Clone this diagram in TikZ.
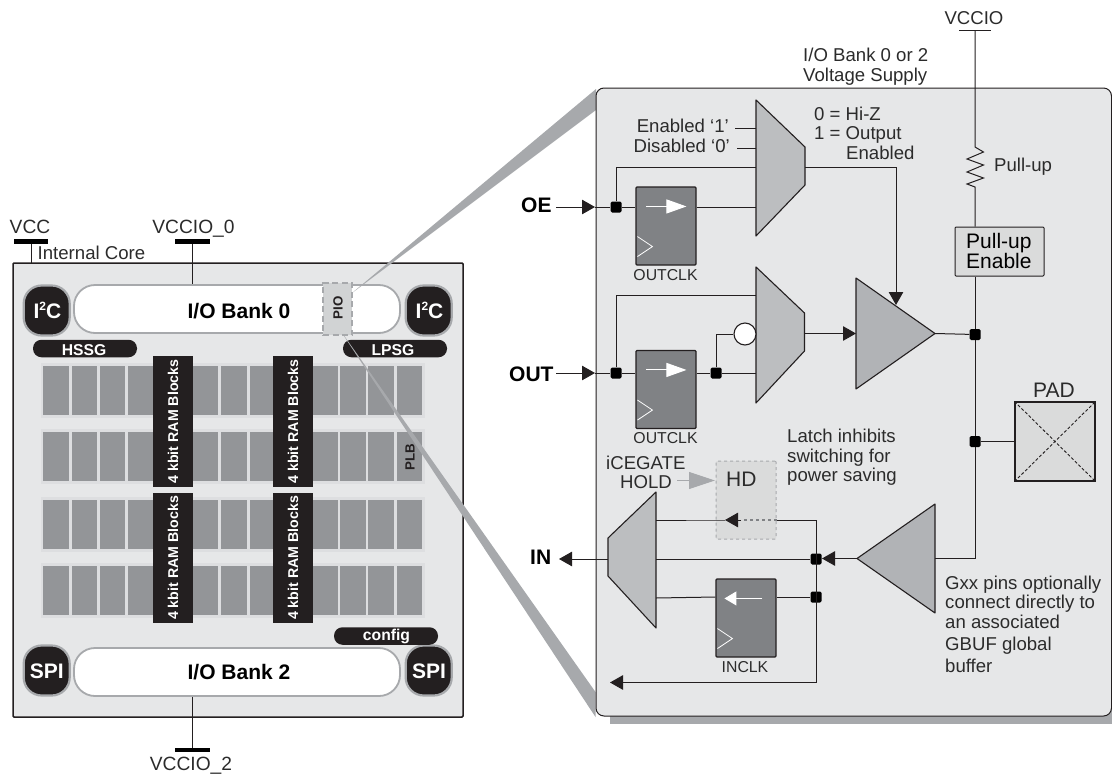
\documentclass[tikz,border=0pt]{standalone}
\usepackage{fontspec}
\setmainfont{Liberation Sans}
\usetikzlibrary{arrows.meta,calc}
\definecolor{txt}{HTML}{2B2B2B}
\definecolor{panelbg}{HTML}{E6E7E8}
\definecolor{greyc}{HTML}{A7A9AC}
\definecolor{cellc}{HTML}{939598}
\definecolor{cellbg}{HTML}{DDDEE0}
\definecolor{blk}{HTML}{231F20}
\definecolor{muxc}{HTML}{BCBEC0}
\definecolor{triC}{HTML}{B1B3B6}
\definecolor{ffc}{HTML}{808285}
\definecolor{hdc}{HTML}{DADBDB}
\definecolor{pioc}{HTML}{D1D3D4}
\newcommand{\twosup}{\raisebox{.36em}{\fontsize{12}{12}\selectfont 2}}
\tikzset{
  lbl/.style={inner sep=0pt,text=txt,font=\fontsize{18.6}{20}\selectfont},
  lblb/.style={inner sep=0pt,text=black,font=\fontsize{21}{22}\selectfont\bfseries},
  wire/.style={draw=blk,line width=1pt},
  tip/.style={-{Triangle[length=13pt,width=14.5pt]}},
  jn/.style={fill=black,rounded corners=1.5pt,minimum size=11pt,inner sep=0pt,draw=none},
  rampill/.style={fill=blk,draw=none,inner sep=0pt},
  pill/.style={fill=blk,rounded corners=8.5pt,draw=none},
  bank/.style={fill=white,draw=greyc,line width=1.8pt,rounded corners=21pt},
  corner/.style={fill=blk,draw=greyc,line width=2.2pt,rounded corners=18pt},
  muxs/.style={fill=muxc,draw=blk,line width=1.1pt,line join=round},
  tris/.style={fill=triC,draw=blk,line width=1.1pt,line join=round},
  ffs/.style={fill=ffc,draw=blk,line width=1.1pt,rounded corners=1pt},
  white lbl/.style={inner sep=0pt,text=white,font=\fontsize{15.7}{16}\selectfont\bfseries},
  ramt/.style={inner sep=0pt,text=white,rotate=90,font=\fontsize{14.2}{15}\selectfont\bfseries},
  clkl/.style={inner sep=0pt,text=txt,font=\fontsize{15.8}{16}\selectfont},
}
\begin{document}
\begin{tikzpicture}[x=1pt,y=-1pt]
\useasboundingbox (0,0) rectangle (1112,774);
% ---------- chip
\node[draw=blk,line width=1.5pt,fill=panelbg,minimum width=450pt,minimum height=454pt,inner sep=0pt,rounded corners=1pt] (chip) at (238,490) {};
% PLB rows
\foreach \yy in {363,429,497,563}{
  \fill[cellbg] (41,\yy) rectangle (425,\yy+54.5);
  \foreach \xx in {43.3,71.7,99.7,127.7,193,221.3,249.7,312.3,340.3,368.3,396.7}{
    \fill[cellc] (\xx,\yy+2.5) rectangle (\xx+25.4,\yy+52);
  }
}
% RAM blocks
\foreach \xx/\nm in {153/r1,273/r2}{
  \node[rampill,minimum width=39.7pt,minimum height=131pt] (\nm t) at (\xx+19.85,421.5) {};
  \node[rampill,minimum width=39.7pt,minimum height=130pt] (\nm b) at (\xx+19.85,558) {};
  \node[ramt] at (\xx+20,421.5) {4 kbit RAM Blocks};
  \node[ramt] at (\xx+20,558) {4 kbit RAM Blocks};
}
\node[inner sep=0pt,rotate=90,text=blk,font=\fontsize{13.3}{14}\selectfont\bfseries] (plb) at (410,457) {PLB};
% banks
\node[bank,minimum width=326pt,minimum height=48pt,inner sep=0pt] (bank0) at (237,309) {};
\node[anchor=base,lblb] (bank0t) at (239,318) {I/O Bank 0};
\node[bank,minimum width=326pt,minimum height=48pt,inner sep=0pt] (bank2) at (237,672) {};
\node[anchor=base,lblb] (bank2t) at (239,679) {I/O Bank 2};
% corners
\node[corner,minimum width=46pt,minimum height=50pt,inner sep=0pt] (i2cl) at (46.7,310.5) {};
\node[corner,minimum width=46pt,minimum height=50pt,inner sep=0pt] (i2cr) at (428.7,310.5) {};
\node[corner,minimum width=46pt,minimum height=50pt,inner sep=0pt] (spil) at (46.7,670.5) {};
\node[corner,minimum width=46pt,minimum height=50pt,inner sep=0pt] (spir) at (428.7,670.5) {};
\node[anchor=base,lblb,text=white] at (47.5,318) {I\twosup C};
\node[anchor=base,lblb,text=white] at (429.5,318) {I\twosup C};
\node[anchor=base,lblb,text=white] at (46.7,678) {SPI};
\node[anchor=base,lblb,text=white] at (429,678) {SPI};
% pills
\node[pill,minimum width=104pt,minimum height=17.5pt,inner sep=0pt] (hssg) at (85,348.5) {};
\node[anchor=base,white lbl] at (84,355) {HSSG};
\node[pill,minimum width=104pt,minimum height=17.5pt,inner sep=0pt] (lpsg) at (395,348.5) {};
\node[anchor=base,white lbl] at (393,355) {LPSG};
\node[pill,minimum width=104pt,minimum height=17.5pt,inner sep=0pt] (config) at (386,636) {};
\node[anchor=base,white lbl] at (386.5,640) {config};
% supplies
\coordinate (vcctop) at (31,241);
\coordinate (vccb) at (31,263);
\coordinate (v0top) at (192,241);
\coordinate (v2bot) at (192,749.5);
\draw[wire] (vcctop) -- (vccb);
\draw[wire] (v0top) -- (v0top |- bank0.north);
\draw[wire] (v2bot) -- (v2bot |- bank2.south);
\fill[black] (14,239) rectangle (48,243.5);
\fill[black] (175,239) rectangle (209.5,243.5);
\fill[black] (175,747.5) rectangle (209.5,752);
\node[anchor=base,lbl,font=\fontsize{19.2}{20}\selectfont] (vcct) at (30,233) {VCC};
\node[anchor=base,lbl,font=\fontsize{19.2}{20}\selectfont] (v0t) at (193.5,233) {VCCIO\_0};
\node[anchor=base,lbl,font=\fontsize{19.2}{20}\selectfont] (v2t) at (191,770.5) {VCCIO\_2};
\node[anchor=base west,lbl] (ict) at (37.5,259) {Internal Core};
% zoom wedges
\fill[greyc] (352,293) -- (596,89) -- (596,110) -- cycle;
\fill[greyc] (338,327) -- (595.5,692) -- (595.5,717) -- cycle;
% PIO
\node[fill=pioc,draw=greyc,line width=2pt,dash pattern=on 6pt off 3.5pt,minimum width=29pt,minimum height=52pt,inner sep=0pt] (pio) at (337.5,309) {};
\node[inner sep=0pt,rotate=90,text=blk,font=\fontsize{13.3}{14}\selectfont\bfseries] at (338,308) {PIO};
% ---------- panel
\fill[greyc] (610,700) -- (1112,700) -- (1112,723.5) -- (610,723.5) -- cycle;
\draw[blk,fill=panelbg,line width=1pt,rounded corners=8pt] (596,88) rectangle (1111.5,716);
% supply texts
\node[anchor=base west,lbl] at (803,61) {I/O Bank 0 or 2};
\node[anchor=base west,lbl] at (803,81) {Voltage Supply};
\node[anchor=base,lbl] (vcciot) at (974,24) {VCCIO};
% mux 1
\draw[muxs] (756,100) -- (805,147) -- (805,185) -- (756,236) -- cycle;
\coordinate (m1a) at (756,128); \coordinate (m1b) at (756,148); \coordinate (m1c) at (756,167); \coordinate (m1d) at (756,207); \coordinate (m1o) at (805,167);
% mux 2
\draw[muxs] (756,267) -- (804.5,313) -- (804.5,351) -- (756,403) -- cycle;
\coordinate (m2a) at (756,295); \coordinate (m2d) at (756,373); \coordinate (m2o) at (804.5,333.5);
% mux 3
\draw[muxs] (656,492) -- (608,538) -- (608,576) -- (656,628) -- cycle;
\coordinate (m3a) at (656,520); \coordinate (m3b) at (656,559); \coordinate (m3c) at (656,598); \coordinate (m3o) at (608,559);
% triangles
\draw[tris] (856,278) -- (935,333.5) -- (856,389) -- cycle;
\coordinate (t1a) at (856,333.5); \coordinate (t1o) at (935,333.5); \coordinate (t1e) at (896,305);
\draw[tris] (935,504) -- (857,558.5) -- (935,613) -- cycle;
\coordinate (t2a) at (857,558.5); \coordinate (t2i) at (935,558.5);
% flip-flops
\node[ffs,minimum width=60pt,minimum height=78pt,inner sep=0pt] (ff1) at (666,226) {};
\node[ffs,minimum width=60pt,minimum height=78pt,inner sep=0pt] (ff2) at (666,389.5) {};
\node[ffs,minimum width=60pt,minimum height=78pt,inner sep=0pt] (ff3) at (746,618) {};
\foreach \n in {ff1,ff2}{
  \draw[white,line width=1pt,-{Triangle[length=20pt,width=14pt]}] ($(\n.north west)+(11,20)$) -- ($(\n.north west)+(51,20)$);
  \draw[white,line width=.8pt] ($(\n.south west)+(2,-29)$) -- ($(\n.south west)+(17,-19)$) -- ($(\n.south west)+(2,-9)$);
}
\draw[white,line width=1pt,-{Triangle[length=12pt,width=14pt]}] ($(ff3.north west)+(47,20)$) -- ($(ff3.north west)+(9,20)$);
\draw[white,line width=.8pt] ($(ff3.south west)+(2,-29)$) -- ($(ff3.south west)+(17,-19)$) -- ($(ff3.south west)+(2,-9)$);
\node[anchor=base,clkl] at (665.5,280) {OUTCLK};
\node[anchor=base,clkl] at (665.5,443) {OUTCLK};
\node[anchor=base,clkl] at (745,672) {INCLK};
% junctions
\node[jn] (j1) at (616,207) {};
\node[jn] (j2) at (616,373) {};
\node[jn] (j3) at (716,373) {};
\node[jn] (j4) at (975,334.5) {};
\node[jn] (j5) at (975,441.5) {};
\node[jn] (j6) at (816,559) {};
\node[jn] (j7) at (816,597) {};
% OE path
\node[anchor=base west,lblb] (oet) at (521,212) {OE};
\coordinate (oes) at (556,207); \coordinate (oee) at (595,207);
\draw[wire,tip] (oes) -- (oee);
\draw[wire] (oee) -- (j1) -- (ff1.west |- j1);
\draw[wire] (ff1.east |- j1) -- (m1d);
\draw[wire] (j1) -- (j1 |- m1c) -- (m1c);
\coordinate (en1) at (735,128); \coordinate (en2) at (737,148);
\draw[wire] (en1) -- (m1a);
\draw[wire] (en2) -- (m1b);
\node[anchor=base east,lbl] at (729,132) {Enabled ‘1’};
\node[anchor=base east,lbl] at (730,152) {Disabled ‘0’};
% OUT path
\node[anchor=base west,lblb] (outt) at (509,381) {OUT};
\coordinate (outs) at (556,373); \coordinate (oute) at (595,373);
\draw[wire,tip] (outs) -- (oute);
\draw[wire] (oute) -- (j2) -- (ff2.west |- j2);
\draw[wire] (ff2.east |- j2) -- (j3) -- (m2d);
\draw[wire] (j2) -- (j2 |- m2a) -- (m2a);
\node[draw=blk,fill=white,line width=1.1pt,circle,minimum size=22pt,inner sep=0pt] (inv) at (745,334) {};
\draw[wire] (j3) -- (j3 |- inv) -- (inv.west);
% outputs
\draw[wire,tip] (m2o) -- (t1a);
\coordinate (oeb) at (896,167);
\draw[wire] (m1o) -- (oeb);
\draw[wire,tip] (oeb) -- (t1e);
\draw[wire] (t1o) -- (j4);
% right rail
\node[fill=hdc,draw=blk,line width=1pt,minimum width=89pt,minimum height=49pt,inner sep=0pt,rounded corners=1pt] (pue) at (999.5,251.5) {};
\node[anchor=base west,lbl,text=black,font=\fontsize{21}{22}\selectfont] at (966,248) {Pull-up};
\node[anchor=base west,lbl,text=black,font=\fontsize{21}{22}\selectfont] at (966,268) {Enable};
\coordinate (vtop) at (975,30);
\coordinate (r1) at (975,147);
\coordinate (r2) at (975,187);
\draw[wire] (959,30) -- (991,30);
\draw[wire] (vtop) -- (r1) -- (983.5,152) -- (967,159) -- (983.5,165) -- (967,172) -- (983.5,178) -- (967,184) -- (r2) -- (r2 |- pue.north);
\draw[wire] (r2 |- pue.south) -- (j4) -- (j5) -- (j5 |- t2i) -- (t2i);
\node[anchor=base west,lbl] at (994,171) {Pull-up};
\node[anchor=base west,lbl] at (814,120) {0 = Hi-Z};
\node[anchor=base west,lbl] at (814,139) {1 = Output};
\node[anchor=base west,lbl] at (846,159) {Enabled};
% PAD
\node[draw=blk,fill=hdc,line width=1.2pt,minimum width=80pt,minimum height=79pt,inner sep=0pt] (pad) at (1055,441.5) {};
\draw[blk,line width=.9pt,densely dashed] (pad.north west) -- (pad.south east);
\draw[blk,line width=.9pt,densely dashed] (pad.south west) -- (pad.north east);
\draw[wire] (j5) -- (pad.west);
\node[anchor=base,lbl,font=\fontsize{21}{22}\selectfont] at (1054,397) {PAD};
% lower section
\draw[wire,tip] (t2a) -- (822,558.5);
\draw[wire] (j6) -- (m3b);
\draw[wire,tip] (m3o) -- (559,559);
\node[anchor=base west,lblb] (int) at (530,564) {IN};
% HD
\node[fill=hdc,draw=greyc,line width=1pt,dashed,rounded corners=1pt,minimum width=60pt,minimum height=78pt,inner sep=0pt] (hd) at (746,500) {};
\node[anchor=base west,lbl,font=\fontsize{21}{22}\selectfont] at (726,486) {HD};
\draw[greyc,line width=1pt,-{Triangle[length=26pt,width=17pt]}] (677,480.5) -- (715,480.5);
\node[anchor=base west,lbl] at (606,469) {iCEGATE};
\node[anchor=base west,lbl] at (620,488) {HOLD};
\coordinate (rtop) at (816,520);
\coordinate (rbot) at (816,682.5);
\draw[wire] (rtop) -- (rbot);
\draw[wire] (rtop) -- (hd.east |- rtop);
\draw[draw=ffc,line width=1.2pt,dashed] (hd.east |- rtop) -- (741,520);
\draw[wire,tip] (741,520) -- (725,520);
\draw[wire] (725,520) -- (hd.west |- rtop) -- (m3a);
\draw[wire] (j7) -- (ff3.east |- j7);
\draw[wire] (ff3.west |- j7) -- (m3c);
\draw[wire,tip] (rbot) -- (610,682.5);
\node[anchor=base west,lbl] at (787,442) {Latch inhibits};
\node[anchor=base west,lbl] at (787,462) {switching for};
\node[anchor=base west,lbl] at (787,481) {power saving};
\node[anchor=base west,lbl] at (945,589) {Gxx pins optionally};
\node[anchor=base west,lbl] at (945,608) {connect directly to};
\node[anchor=base west,lbl] at (945,628) {an associated};
\node[anchor=base west,lbl] at (945,650) {GBUF global};
\node[anchor=base west,lbl] at (945,672) {buffer};
\end{tikzpicture}
\end{document}
